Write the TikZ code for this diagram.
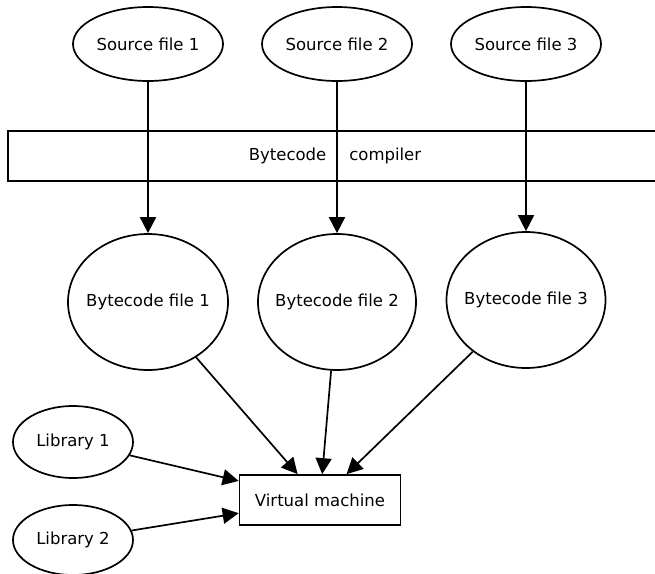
\documentclass[tikz,border=0pt]{standalone}
\usepackage{fontspec}
\setmainfont{DejaVu Sans}
\usetikzlibrary{arrows.meta,shapes.geometric}

\begin{document}
\begin{tikzpicture}[x=1pt,y=-1pt,
		file/.style={draw,ellipse,line width=1.7pt,inner sep=0pt,font=\fontsize{16.5}{20}\selectfont},
		bytefile/.style={file,inner xsep=-8pt,minimum height=136pt},
		box/.style={draw,rectangle,line width=1.7pt,font=\fontsize{16.5}{20}\selectfont},
		flow/.style={-{Triangle[length=16pt,width=16pt]},line width=1.7pt}]
		\useasboundingbox (0,0) rectangle (655,573);
		% sources and compiler
		\node[file,minimum width=150pt,minimum height=74pt] (src1) at (148,44) {Source file 1};
		\node[file,minimum width=150pt,minimum height=74pt] (src2) at (337,44) {Source file 2};
		\node[file,minimum width=150pt,minimum height=74pt] (src3) at (526,44) {Source file 3};
		\node[box,minimum width=654pt,minimum height=50pt] (compiler) at (335,156) {Bytecode\hspace{23pt}compiler};
		% bytecode files
		\node[bytefile,minimum width=160pt] (bc1) at (148,302) {Bytecode file 1};
		\node[bytefile,minimum width=158pt] (bc2) at (337,302) {Bytecode file 2};
		\node[bytefile,minimum width=159pt] (bc3) at (526,300) {Bytecode file 3};
		% machine and libraries
		\node[box,minimum width=161pt,minimum height=50pt] (vm) at (320,500) {Virtual machine};
		\node[file,minimum width=120pt,minimum height=72pt] (lib1) at (73,442) {Library 1};
		\node[file,minimum width=120pt,minimum height=70pt] (lib2) at (73,540) {Library 2};
		\draw[flow] (src1) -- (bc1);
		\draw[flow] (src2) -- (bc2);
		\draw[flow] (src3) -- (bc3);
		\draw[flow] (bc1) -- (vm);
		\draw[flow] (bc2) -- (vm);
		\draw[flow] (bc3) -- (vm);
		\draw[flow] (lib1) -- (vm);
		\draw[flow] (lib2) -- (vm);
\end{tikzpicture}
\end{document}
